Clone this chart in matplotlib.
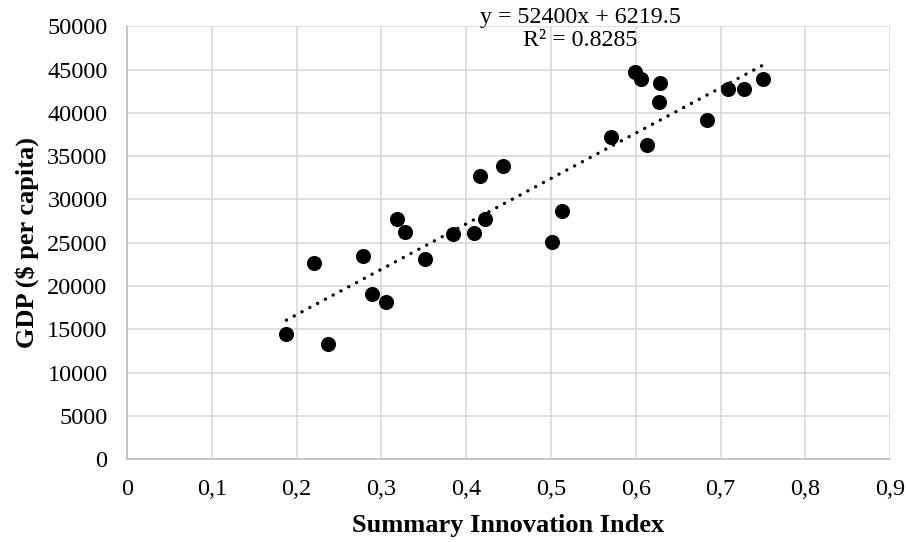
import matplotlib.pyplot as plt
from matplotlib.ticker import FuncFormatter

plt.rcParams['font.family'] = ['Liberation Serif', 'DejaVu Serif']

# innovation index vs GDP per capita
sii = [0.188, 0.237, 0.221, 0.278, 0.289, 0.306, 0.319, 0.328, 0.351, 0.384,
       0.409, 0.422, 0.416, 0.443, 0.501, 0.513, 0.571, 0.599, 0.606, 0.629,
       0.627, 0.613, 0.684, 0.709, 0.728, 0.750]
gdp = [14470, 13350, 22700, 23440, 19090, 18160, 27780, 26210, 23130, 25980,
       26170, 27750, 32750, 33900, 25090, 28710, 37250, 44690, 43880, 43490,
       41220, 36330, 39150, 42730, 42800, 43880]

# linear trend as reported
slope = 52400
intercept = 6219.5
r2 = 0.8285

fig = plt.figure(figsize=(9.06, 5.42), dpi=100)
ax = fig.add_axes([0.1401, 0.1526, 0.8424, 0.7989])

ax.scatter(sii, gdp, s=118, color='black', zorder=3, linewidths=0)

x0, x1 = min(sii), max(sii)
ax.plot([x0, x1], [slope * x0 + intercept, slope * x1 + intercept],
        color='black', lw=2.4, linestyle=(0, (0.05, 2.6)),
        dash_capstyle='round', zorder=2)

ax.set_xlim(0, 0.9)
ax.set_ylim(0, 50000)
ax.set_xticks([i / 10 for i in range(10)])
ax.set_yticks(range(0, 50001, 5000))
ax.xaxis.set_major_formatter(FuncFormatter(
    lambda v, p: '0' if v == 0 else ('%.1f' % v).replace('.', ',')))

ax.grid(True, color='#d9d9d9', lw=1.2, zorder=0)
ax.set_axisbelow(True)
for s in ['top', 'right']:
    ax.spines[s].set_visible(False)
for s in ['left', 'bottom']:
    ax.spines[s].set_color('#bfbfbf')
    ax.spines[s].set_linewidth(1.2)
ax.tick_params(length=0, labelsize=17.5)
ax.tick_params(axis='x', pad=14)
ax.tick_params(axis='y', pad=14)

ax.set_xlabel('Summary Innovation Index', fontsize=19, fontweight='bold', labelpad=10)
ax.set_ylabel('GDP ($ per capita)', fontsize=19, fontweight='bold', labelpad=6)

ax.text(0.5945, 0.993, 'y = 52400x + 6219.5\nR² = 0.8285', transform=ax.transAxes,
        ha='center', va='center', fontsize=17.3, linespacing=1.12)

fig.savefig('out.png', dpi=100)
